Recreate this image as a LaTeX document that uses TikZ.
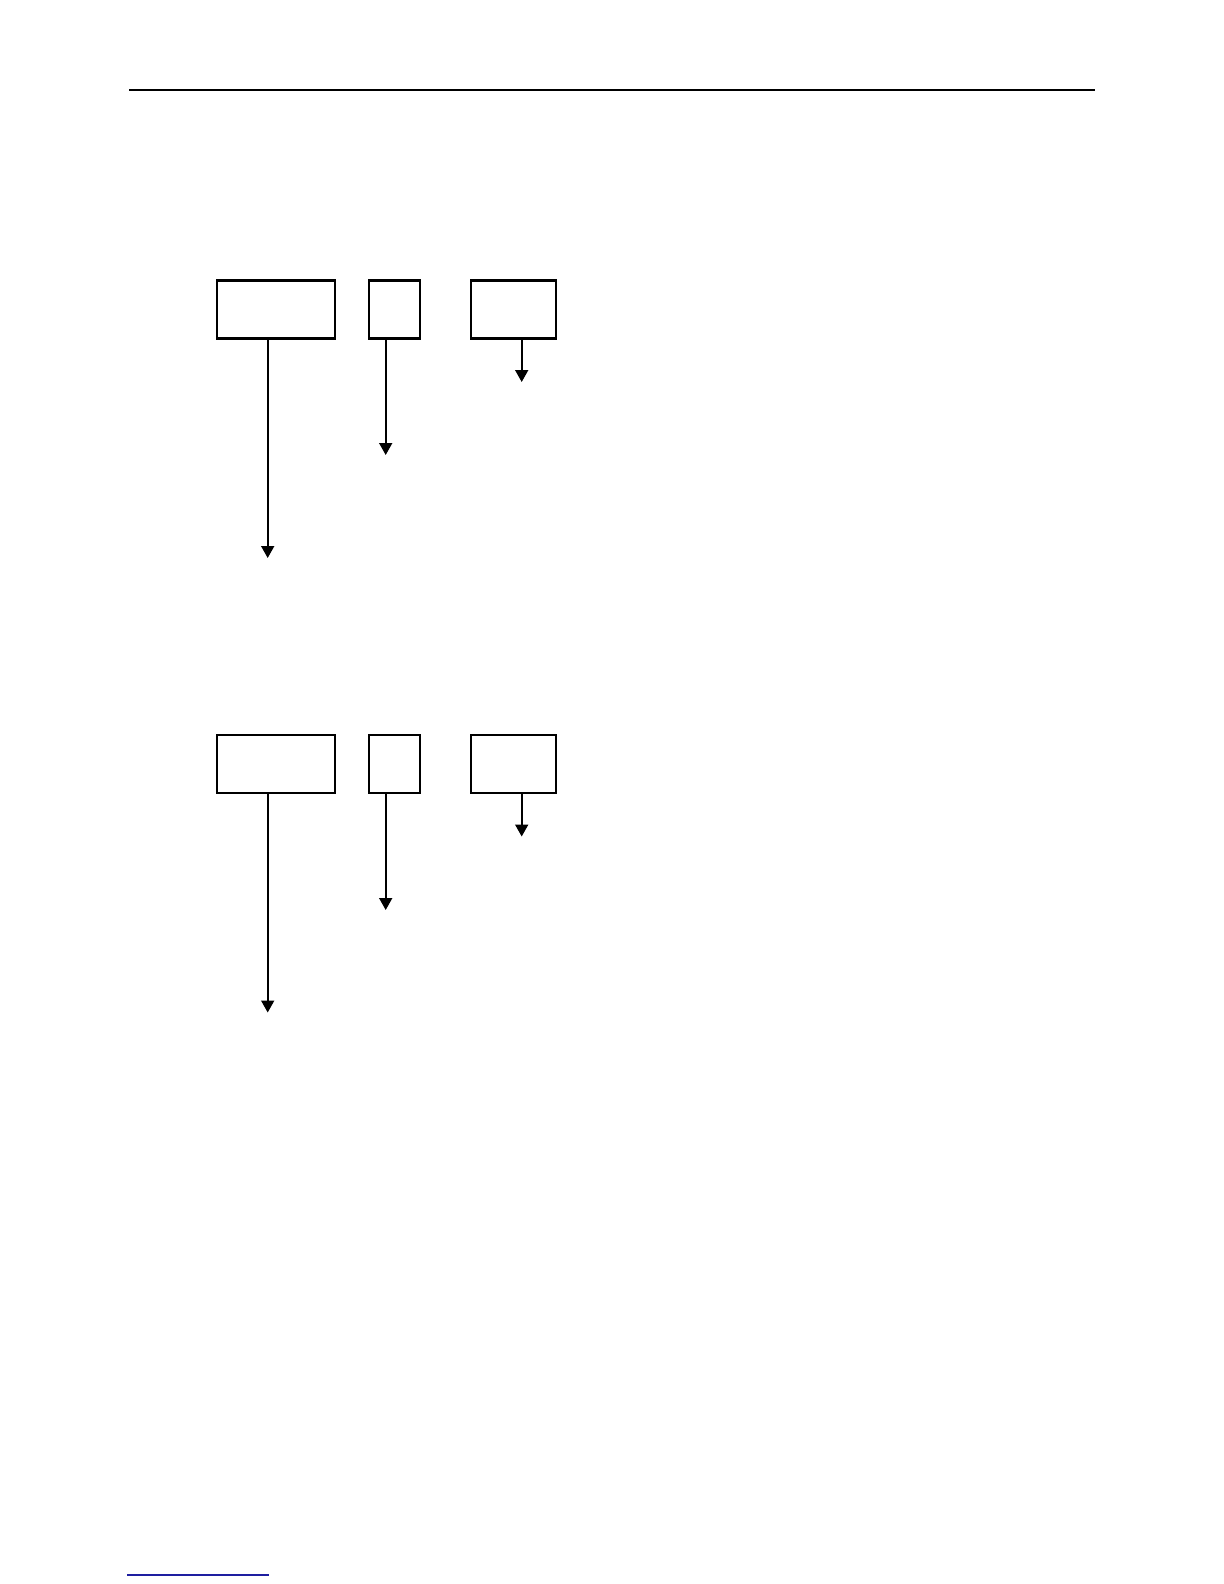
\documentclass[tikz,border=0pt]{standalone}
\usetikzlibrary{arrows.meta}
\begin{document}
\begin{tikzpicture}[x=0.5pt,y=-0.5pt,
  box/.style={draw,line width=1.2pt,inner sep=0pt,minimum height=29pt},
  arr/.style={line width=0.9pt,-{Triangle[width=6.5pt,length=6pt]}}]
\useasboundingbox (0,0) rectangle (1224,1584);
% header rule
\coordinate (hl) at (129,90);
\coordinate (hr) at (1095,90);
\draw[line width=1.4pt] (hl) -- (hr);
% group 1
\node[box,minimum width=59pt] (a1) at (276,309.5) {};
\node[box,minimum width=25.5pt] (a2) at (394.5,309.5) {};
\node[box,minimum width=42.5pt] (a3) at (513.5,309.5) {};
\coordinate (ea1) at (267.7,558);
\coordinate (ea2) at (385.7,455);
\coordinate (ea3) at (521.7,382);
\draw[arr] (a1.south -| ea1) -- (ea1);
\draw[arr] (a2.south -| ea2) -- (ea2);
\draw[arr] (a3.south -| ea3) -- (ea3);
% group 2
\node[box,minimum width=59pt] (b1) at (276,764) {};
\node[box,minimum width=25.5pt] (b2) at (394.5,764) {};
\node[box,minimum width=42.5pt] (b3) at (513.5,764) {};
\coordinate (eb1) at (267.7,1012.5);
\coordinate (eb2) at (385.7,910);
\coordinate (eb3) at (521.7,836.5);
\draw[arr] (b1.south -| eb1) -- (eb1);
\draw[arr] (b2.south -| eb2) -- (eb2);
\draw[arr] (b3.south -| eb3) -- (eb3);
% footer blue rule
\definecolor{footblue}{RGB}{30,30,160}
\coordinate (fl) at (127,1575);
\coordinate (fr) at (269,1575);
\draw[footblue,line width=0.6pt] (fl) -- (fr);
\end{tikzpicture}
\end{document}
